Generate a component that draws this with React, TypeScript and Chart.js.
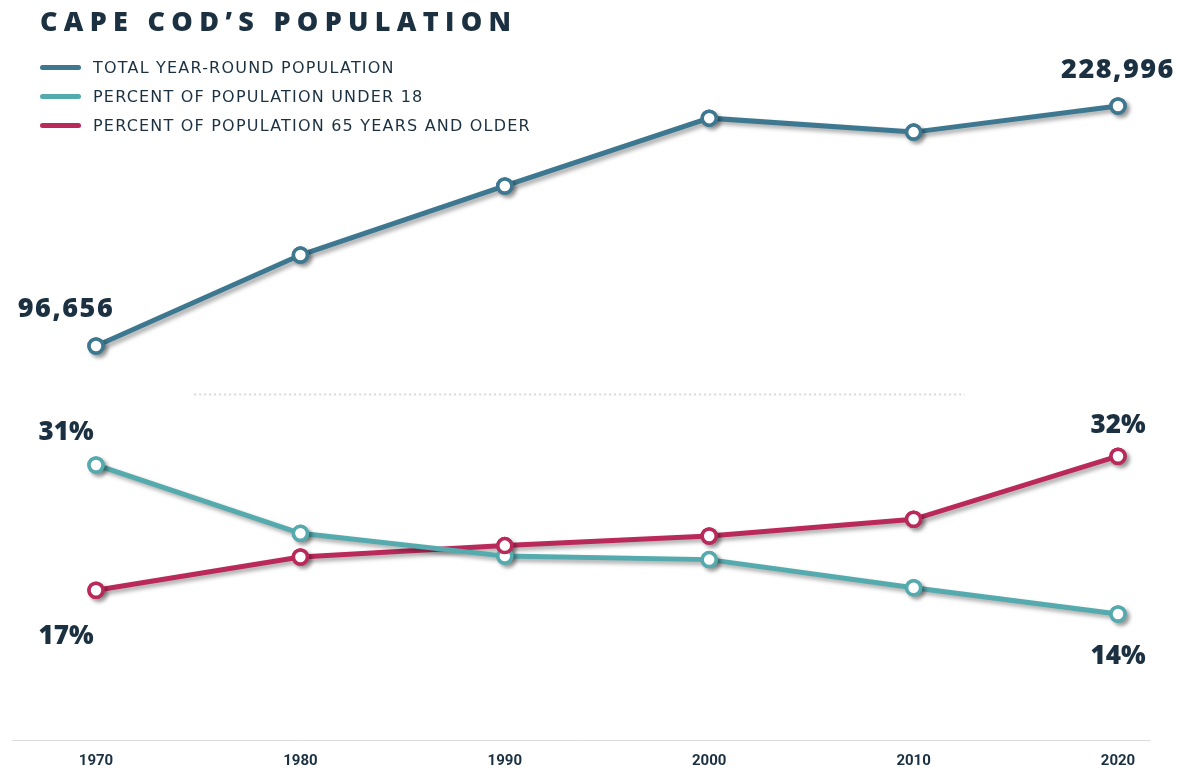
import React, { useEffect, useRef } from "react";
import { Chart, registerables } from "chart.js";

Chart.register(...registerables);

const years = ["1970", "1980", "1990", "2000", "2010", "2020"];
const population = [96656, 146800, 184900, 222300, 214600, 228996];
const under18 = [31, 23.2, 20.6, 20.2, 17, 14];
const over65 = [16.7, 20.5, 21.8, 22.9, 24.8, 32];

const seriesLabels = [
  "TOTAL YEAR-ROUND POPULATION",
  "PERCENT OF POPULATION UNDER 18",
  "PERCENT OF POPULATION 65 YEARS AND OLDER",
];
const seriesColors = ["#3d7890", "#55aaad", "#b92a5b"];
const endLabels = [
  ["96,656", "228,996"],
  ["31%", "14%"],
  ["17%", "32%"],
];

const DARK = "#1b3142";
const LABEL_FONT = "'Open Sans', 'DejaVu Sans', sans-serif";

const shadowPlugin = {
  id: "lineShadow",
  beforeDatasetsDraw(chart: any) {
    const ctx = chart.ctx;
    ctx.save();
    ctx.shadowColor = "rgba(0,0,0,0.35)";
    ctx.shadowBlur = 4;
    ctx.shadowOffsetX = 3;
    ctx.shadowOffsetY = 3;
  },
  afterDatasetsDraw(chart: any) {
    const ctx = chart.ctx;
    ctx.restore();
    chart.data.datasets.forEach((_ds: any, i: number) => {
      const meta = chart.getDatasetMeta(i);
      meta.data.forEach((pt: any) => pt.draw(ctx, chart.chartArea));
    });
  },
};

const decorPlugin = {
  id: "decor",
  beforeDatasetsDraw(chart: any) {
    const { ctx, chartArea, scales } = chart;
    const xs = scales.x;
    const step = xs.getPixelForValue(1) - xs.getPixelForValue(0);
    ctx.save();
    ctx.strokeStyle = "#dcdcdc";
    ctx.lineWidth = 1;
    ctx.beginPath();
    ctx.moveTo(xs.getPixelForValue(0) - step * 0.41, chartArea.bottom + 0.5);
    ctx.lineTo(xs.getPixelForValue(5) + step * 0.16, chartArea.bottom + 0.5);
    ctx.stroke();
    const y = scales.yPct.getPixelForValue(39.1);
    ctx.strokeStyle = "#d9d9d9";
    ctx.lineWidth = 2;
    ctx.setLineDash([2, 3]);
    ctx.beginPath();
    ctx.moveTo(xs.getPixelForValue(0) + step * 0.48, Math.round(y) + 0.5);
    ctx.lineTo(xs.getPixelForValue(4) + step * 0.25, Math.round(y) + 0.5);
    ctx.stroke();
    ctx.restore();
  },
};

const endLabelPlugin = {
  id: "endLabels",
  afterDatasetsDraw(chart: any) {
    const ctx = chart.ctx;
    ctx.save();
    ctx.fillStyle = DARK;
    ctx.textAlign = "center";
    ctx.textBaseline = "middle";
    const placements = [
      [-30, -37, 0, -36],
      [-30, -32, 0, 43],
      [-30, 46, 0, -31],
    ];
    chart.data.datasets.forEach((_ds: any, i: number) => {
      const meta = chart.getDatasetMeta(i);
      const first = meta.data[0];
      const last = meta.data[meta.data.length - 1];
      const p = placements[i];
      if (i === 0) {
        ctx.font = `800 27px ${LABEL_FONT}`;
        (ctx as any).letterSpacing = "1.5px";
      } else {
        ctx.font = `800 26px ${LABEL_FONT}`;
        (ctx as any).letterSpacing = "0px";
      }
      ctx.fillText(endLabels[i][0], first.x + p[0], first.y + p[1]);
      ctx.fillText(endLabels[i][1], last.x + p[2], last.y + p[3]);
    });
    ctx.restore();
  },
};

export default function App() {
  const canvasRef = useRef<HTMLCanvasElement | null>(null);

  useEffect(() => {
    if (!canvasRef.current) return;
    const mk = (data: number[], i: number, axis: string) => ({
      label: seriesLabels[i],
      data,
      yAxisID: axis,
      borderColor: seriesColors[i],
      backgroundColor: "#ffffff",
      borderWidth: 5,
      pointRadius: 7,
      pointHoverRadius: 7,
      pointBorderWidth: 3.5,
      pointBackgroundColor: "#ffffff",
      pointBorderColor: seriesColors[i],
      tension: 0,
      fill: false,
      clip: false as any,
    });
    const chart = new Chart(canvasRef.current, {
      type: "line",
      data: {
        labels: years,
        datasets: [
          mk(population, 0, "yPop"),
          mk(under18, 1, "yPct"),
          mk(over65, 2, "yPct"),
        ],
      },
      options: {
        animation: false,
        responsive: true,
        maintainAspectRatio: false,
        layout: { autoPadding: false, padding: { left: 96, right: 79, top: 0, bottom: 4 } },
        plugins: {
          legend: { display: false },
          tooltip: { enabled: false },
        },
        scales: {
          x: {
            offset: false,
            grid: { display: false, drawTicks: false },
            border: { display: false },
            afterFit(scale: any) {
              scale.height = 26;
            },
            ticks: {
              color: DARK,
              font: { family: "Roboto, 'DejaVu Sans', sans-serif", weight: "bold", size: 15 },
              padding: 12,
              maxRotation: 0,
            },
          },
          yPop: {
            display: false,
            min: -120602,
            max: 287446,
          },
          yPct: {
            display: false,
            min: -0.38,
            max: 84.05,
          },
        },
      },
      plugins: [decorPlugin, shadowPlugin, endLabelPlugin],
    });
    return () => chart.destroy();
  }, []);

  return (
    <div
      style={{
        position: "fixed",
        left: 0,
        top: 0,
        width: 1197,
        height: 770,
        background: "#ffffff",
        fontFamily: "'Open Sans', 'DejaVu Sans', sans-serif",
        color: DARK,
      }}
    >
      <canvas ref={canvasRef} style={{ position: "absolute", left: 0, top: 0 }} />
      <div
        style={{
          position: "absolute",
          left: 40,
          top: 4,
          fontSize: 27,
          fontWeight: 800,
          letterSpacing: 6.3,
          lineHeight: "34px",
          whiteSpace: "nowrap",
        }}
      >
        CAPE COD’S POPULATION
      </div>
      {seriesLabels.map((lab, i) => (
        <div
          key={lab}
          style={{
            position: "absolute",
            left: 40,
            top: 67 + i * 29 - 10,
            height: 20,
            display: "flex",
            alignItems: "center",
            whiteSpace: "nowrap",
          }}
        >
          <div
            style={{
              width: 41,
              height: 5,
              borderRadius: 3,
              background: seriesColors[i],
              marginRight: 12,
            }}
          />
          <span style={{ fontSize: 16, letterSpacing: 1.2, fontFamily: "'DejaVu Sans', sans-serif" }}>
            {lab}
          </span>
        </div>
      ))}
    </div>
  );
}
